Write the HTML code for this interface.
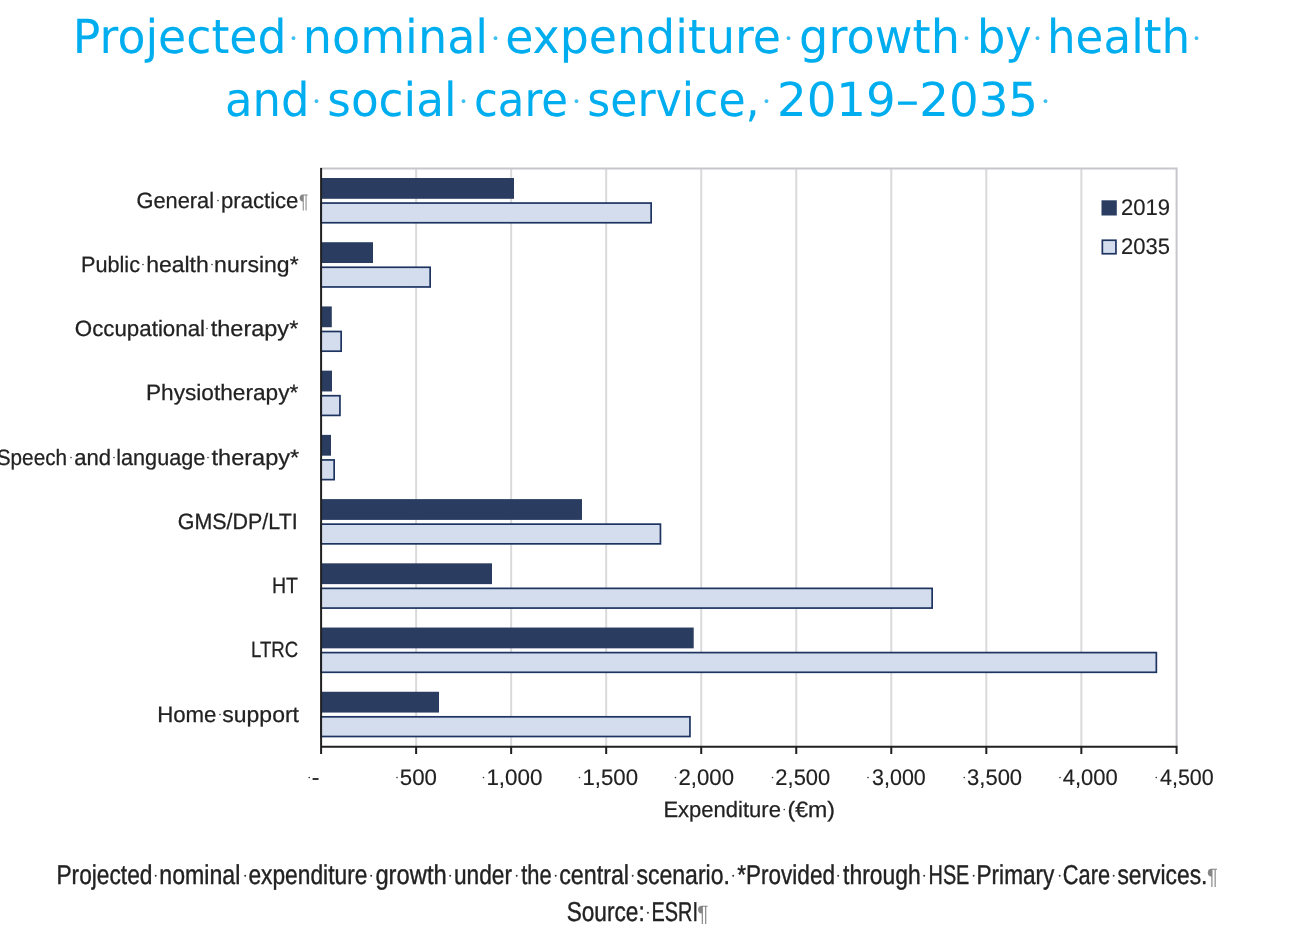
<!DOCTYPE html>
<html lang="en">
<head>
<meta charset="utf-8">
<title>Projected nominal expenditure growth by health and social care service, 2019–2035</title>
<style>
html,body{margin:0;padding:0;background:#fff;}
body{width:1290px;height:942px;overflow:hidden;position:relative;}
svg{position:absolute;left:0;top:0;display:block;}
text{white-space:pre;text-rendering:geometricPrecision;}
.title{font-family:"DejaVu Sans", "Liberation Sans", sans-serif;font-size:46.9px;fill:#00aeef;}
.title .d{font-family:"Liberation Serif", "DejaVu Serif", serif;font-size:33px;fill:#3dc0f2;stroke:none;}
.title .p{font-family:"Liberation Sans", "DejaVu Sans", sans-serif;font-size:19.5px;fill:#00aeef;stroke:none;}
.lab{font-family:"Liberation Sans", "DejaVu Sans", sans-serif;font-size:22.2px;fill:#222222;stroke:#222222;stroke-width:0.25px;}
.lab .d{font-family:"Liberation Serif", "DejaVu Serif", serif;font-size:13.5px;fill:#333333;stroke:none;}
.lab .p{font-family:"Liberation Sans", "DejaVu Sans", sans-serif;font-size:19.5px;fill:#858585;stroke:none;}
.num{font-family:"Liberation Sans", "DejaVu Sans", sans-serif;font-size:22.6px;fill:#222222;stroke:#222222;stroke-width:0.15px;}
.num .d{font-family:"Liberation Serif", "DejaVu Serif", serif;font-size:13.5px;fill:#333333;stroke:none;}
.num .p{font-family:"Liberation Sans", "DejaVu Sans", sans-serif;font-size:19.5px;fill:#858585;stroke:none;}
.cap{font-family:"Liberation Sans", "DejaVu Sans", sans-serif;font-size:27.4px;fill:#222222;stroke:#222222;stroke-width:0.4px;}
.cap .d{font-family:"Liberation Serif", "DejaVu Serif", serif;font-size:16px;fill:#333333;stroke:none;}
.cap .p{font-family:"Liberation Sans", "DejaVu Sans", sans-serif;font-size:22.3px;fill:#858585;stroke:none;}
</style>
</head>
<body>
<svg width="1290" height="942" viewBox="0 0 1290 942" role="img" aria-label="Projected nominal expenditure growth by health and social care service, 2019-2035">
<g id="title">
<text class="title"><tspan x="72.84" y="53" textLength="213.69" lengthAdjust="spacingAndGlyphs">Projected</tspan><tspan class="d" x="288.02" y="48.67">·</tspan><tspan x="302.81" y="53" textLength="185.38" lengthAdjust="spacingAndGlyphs">nominal</tspan><tspan class="d" x="490.02" y="48.67">·</tspan><tspan x="505.16" y="53" textLength="275.87" lengthAdjust="spacingAndGlyphs">expenditure</tspan><tspan class="d" x="783.02" y="48.67">·</tspan><tspan x="799.11" y="53" textLength="160.82" lengthAdjust="spacingAndGlyphs">growth</tspan><tspan class="d" x="961.02" y="48.67">·</tspan><tspan x="976.97" y="53" textLength="54.76" lengthAdjust="spacingAndGlyphs">by</tspan><tspan class="d" x="1032.02" y="48.67">·</tspan><tspan x="1046.89" y="53" textLength="143.26" lengthAdjust="spacingAndGlyphs">health</tspan><tspan class="d" x="1190.88" y="48.67">·</tspan></text>
<text class="title"><tspan x="225" y="115.6" textLength="84.5" lengthAdjust="spacingAndGlyphs">and</tspan><tspan class="d" x="310.97" y="111.65">·</tspan><tspan x="327.26" y="115.6" textLength="129.31" lengthAdjust="spacingAndGlyphs">social</tspan><tspan class="d" x="458.1" y="111.65">·</tspan><tspan x="473.91" y="115.6" textLength="94.19" lengthAdjust="spacingAndGlyphs">care</tspan><tspan class="d" x="570.97" y="111.65">·</tspan><tspan x="587.31" y="115.6" textLength="172.35" lengthAdjust="spacingAndGlyphs">service,</tspan><tspan class="d" x="761.1" y="111.65">·</tspan><tspan x="776.91" y="115.6" textLength="261.2" lengthAdjust="spacingAndGlyphs">2019–2035</tspan><tspan class="d" x="1040.1" y="111.65">·</tspan></text>
</g>
<g id="chart">
<path d="M416.13 168.6V746.65M511.16 168.6V746.65M606.19 168.6V746.65M701.22 168.6V746.65M796.25 168.6V746.65M891.28 168.6V746.65M986.31 168.6V746.65M1081.34 168.6V746.65" stroke="#dadadc" stroke-width="2" fill="none"/>
<path d="M321.1 168.6H1176.6V746.65" stroke="#c6c7cb" stroke-width="2" fill="none" stroke-linecap="square"/>
<rect x="321.1" y="178" width="192.9" height="20.8" fill="#2a3d61"/>
<rect x="321.1" y="203.05" width="330.05" height="19.7" fill="#d4ddee" stroke="#1d3461" stroke-width="1.7"/>
<rect x="321.1" y="242.22" width="51.9" height="20.8" fill="#2a3d61"/>
<rect x="321.1" y="267.27" width="109.05" height="19.7" fill="#d4ddee" stroke="#1d3461" stroke-width="1.7"/>
<rect x="321.1" y="306.44" width="10.7" height="20.8" fill="#2a3d61"/>
<rect x="321.1" y="331.49" width="20.05" height="19.7" fill="#d4ddee" stroke="#1d3461" stroke-width="1.7"/>
<rect x="321.1" y="370.66" width="10.9" height="20.8" fill="#2a3d61"/>
<rect x="321.1" y="395.71" width="18.85" height="19.7" fill="#d4ddee" stroke="#1d3461" stroke-width="1.7"/>
<rect x="321.1" y="434.88" width="9.9" height="20.8" fill="#2a3d61"/>
<rect x="321.1" y="459.93" width="13.05" height="19.7" fill="#d4ddee" stroke="#1d3461" stroke-width="1.7"/>
<rect x="321.1" y="499.1" width="260.9" height="20.8" fill="#2a3d61"/>
<rect x="321.1" y="524.15" width="339.35" height="19.7" fill="#d4ddee" stroke="#1d3461" stroke-width="1.7"/>
<rect x="321.1" y="563.32" width="170.9" height="20.8" fill="#2a3d61"/>
<rect x="321.1" y="588.37" width="611.05" height="19.7" fill="#d4ddee" stroke="#1d3461" stroke-width="1.7"/>
<rect x="321.1" y="627.54" width="372.6" height="20.8" fill="#2a3d61"/>
<rect x="321.1" y="652.59" width="835.25" height="19.7" fill="#d4ddee" stroke="#1d3461" stroke-width="1.7"/>
<rect x="321.1" y="691.76" width="117.9" height="20.8" fill="#2a3d61"/>
<rect x="321.1" y="716.81" width="368.85" height="19.7" fill="#d4ddee" stroke="#1d3461" stroke-width="1.7"/>
<path d="M321.1 168V746.65M320.1 746.65H1177.6M321.1 746.65V754M416.13 746.65V754M511.16 746.65V754M606.19 746.65V754M701.22 746.65V754M796.25 746.65V754M891.28 746.65V754M986.31 746.65V754M1081.34 746.65V754M1176.6 746.65V754" stroke="#202020" stroke-width="2" fill="none"/>
<rect x="1101.5" y="200.3" width="15.3" height="15.2" fill="#2a3d61"/>
<rect x="1102.35" y="240.25" width="13.6" height="13.5" fill="#d4ddee" stroke="#1d3461" stroke-width="1.7"/>
<text class="lab"><tspan x="136.51" y="207.5" textLength="77.52" lengthAdjust="spacingAndGlyphs">General</tspan><tspan class="d" x="215.71" y="205.02">·</tspan><tspan x="220.97" y="207.5" textLength="77.45" lengthAdjust="spacingAndGlyphs">practice</tspan><tspan class="p" x="299.04" y="207.5" textLength="9.37" lengthAdjust="spacingAndGlyphs">¶</tspan></text>
<text class="lab"><tspan x="80.95" y="271.75" textLength="59.07" lengthAdjust="spacingAndGlyphs">Public</tspan><tspan class="d" x="140.71" y="268.76">·</tspan><tspan x="146.18" y="271.75" textLength="62.62" lengthAdjust="spacingAndGlyphs">health</tspan><tspan class="d" x="209.71" y="268.76">·</tspan><tspan x="214.12" y="271.75" textLength="84.49" lengthAdjust="spacingAndGlyphs">nursing*</tspan></text>
<text class="lab"><tspan x="74.77" y="336" textLength="130.28" lengthAdjust="spacingAndGlyphs">Occupational</tspan><tspan class="d" x="204.71" y="333.26">·</tspan><tspan x="210.7" y="336" textLength="87.6" lengthAdjust="spacingAndGlyphs">therapy*</tspan></text>
<text class="lab"><tspan x="145.98" y="400.25" textLength="152.36" lengthAdjust="spacingAndGlyphs">Physiotherapy*</tspan></text>
<text class="lab"><tspan x="-3.21" y="464.5" textLength="70.24" lengthAdjust="spacingAndGlyphs">Speech</tspan><tspan class="d" x="68.71" y="462.02">·</tspan><tspan x="74.2" y="464.5" textLength="36.85" lengthAdjust="spacingAndGlyphs">and</tspan><tspan class="d" x="111.71" y="462.02">·</tspan><tspan x="116.2" y="464.5" textLength="89.17" lengthAdjust="spacingAndGlyphs">language</tspan><tspan class="d" x="205.71" y="462.02">·</tspan><tspan x="211.51" y="464.5" textLength="87.76" lengthAdjust="spacingAndGlyphs">therapy*</tspan></text>
<text class="lab"><tspan x="177.75" y="528.75" textLength="119.94" lengthAdjust="spacingAndGlyphs">GMS/DP/LTI</tspan></text>
<text class="lab"><tspan x="271.96" y="593" textLength="26.04" lengthAdjust="spacingAndGlyphs">HT</tspan></text>
<text class="lab"><tspan x="250.96" y="657.25" textLength="47.35" lengthAdjust="spacingAndGlyphs">LTRC</tspan></text>
<text class="lab"><tspan x="157.13" y="721.5" textLength="59.31" lengthAdjust="spacingAndGlyphs">Home</tspan><tspan class="d" x="217.71" y="719.02">·</tspan><tspan x="222.32" y="721.5" textLength="76.65" lengthAdjust="spacingAndGlyphs">support</tspan></text>
<text class="num"><tspan class="d" x="306.91" y="782.35">·</tspan><tspan x="311.88" y="785.2" textLength="7.69" lengthAdjust="spacingAndGlyphs">-</tspan></text>
<text class="num"><tspan class="d" x="394.71" y="782.36">·</tspan><tspan x="399.83" y="785.2" textLength="37.12" lengthAdjust="spacingAndGlyphs">500</tspan></text>
<text class="num"><tspan class="d" x="481.32" y="782.36">·</tspan><tspan x="486.4" y="785.2" textLength="56.03" lengthAdjust="spacingAndGlyphs">1,000</tspan></text>
<text class="num"><tspan class="d" x="577.32" y="782.36">·</tspan><tspan x="582.42" y="785.2" textLength="55.6" lengthAdjust="spacingAndGlyphs">1,500</tspan></text>
<text class="num"><tspan class="d" x="673.21" y="782.36">·</tspan><tspan x="678.48" y="785.2" textLength="55.5" lengthAdjust="spacingAndGlyphs">2,000</tspan></text>
<text class="num"><tspan class="d" x="770.21" y="782.36">·</tspan><tspan x="775.37" y="785.2" textLength="54.86" lengthAdjust="spacingAndGlyphs">2,500</tspan></text>
<text class="num"><tspan class="d" x="865.71" y="782.36">·</tspan><tspan x="872.12" y="785.2" textLength="53.7" lengthAdjust="spacingAndGlyphs">3,000</tspan></text>
<text class="num"><tspan class="d" x="961.91" y="782.35">·</tspan><tspan x="967.12" y="785.2" textLength="54.99" lengthAdjust="spacingAndGlyphs">3,500</tspan></text>
<text class="num"><tspan class="d" x="1057.71" y="782.36">·</tspan><tspan x="1062.77" y="785.2" textLength="55.03" lengthAdjust="spacingAndGlyphs">4,000</tspan></text>
<text class="num"><tspan class="d" x="1153.91" y="782.35">·</tspan><tspan x="1160" y="785.2" textLength="53.71" lengthAdjust="spacingAndGlyphs">4,500</tspan></text>
<text class="lab"><tspan x="663.4" y="817" textLength="117.5" lengthAdjust="spacingAndGlyphs">Expenditure</tspan><tspan class="d" x="781.91" y="814.25">·</tspan><tspan x="787.52" y="817" textLength="47.57" lengthAdjust="spacingAndGlyphs">(€m)</tspan></text>
<text class="num"><tspan x="1120.97" y="215" textLength="49.06" lengthAdjust="spacingAndGlyphs">2019</tspan></text>
<text class="num"><tspan x="1120.97" y="254.2" textLength="48.95" lengthAdjust="spacingAndGlyphs">2035</tspan></text>
</g>
<g id="caption">
<text class="cap"><tspan x="56.42" y="883.7" textLength="96.01" lengthAdjust="spacingAndGlyphs">Projected</tspan><tspan class="d" x="152.97" y="881.13">·</tspan><tspan x="159.37" y="883.7" textLength="81.02" lengthAdjust="spacingAndGlyphs">nominal</tspan><tspan class="d" x="242.39" y="881.13">·</tspan><tspan x="248.4" y="883.7" textLength="119.01" lengthAdjust="spacingAndGlyphs">expenditure</tspan><tspan class="d" x="368.58" y="881.13">·</tspan><tspan x="375.38" y="883.7" textLength="71.33" lengthAdjust="spacingAndGlyphs">growth</tspan><tspan class="d" x="447.39" y="881.13">·</tspan><tspan x="453.98" y="883.7" textLength="58.02" lengthAdjust="spacingAndGlyphs">under</tspan><tspan class="d" x="513.97" y="881.13">·</tspan><tspan x="521.25" y="883.7" textLength="30.4" lengthAdjust="spacingAndGlyphs">the</tspan><tspan class="d" x="552.97" y="881.13">·</tspan><tspan x="559.18" y="883.7" textLength="69.85" lengthAdjust="spacingAndGlyphs">central</tspan><tspan class="d" x="629.95" y="881.13">·</tspan><tspan x="636.38" y="883.7" textLength="93.58" lengthAdjust="spacingAndGlyphs">scenario.</tspan><tspan class="d" x="730.58" y="881.13">·</tspan><tspan x="737.2" y="883.7" textLength="97.83" lengthAdjust="spacingAndGlyphs">*Provided</tspan><tspan class="d" x="835.58" y="881.13">·</tspan><tspan x="843.1" y="883.7" textLength="77.66" lengthAdjust="spacingAndGlyphs">through</tspan><tspan class="d" x="921.58" y="881.13">·</tspan><tspan x="928.57" y="883.7" textLength="40.77" lengthAdjust="spacingAndGlyphs">HSE</tspan><tspan class="d" x="970.97" y="881.13">·</tspan><tspan x="976.51" y="883.7" textLength="77.91" lengthAdjust="spacingAndGlyphs">Primary</tspan><tspan class="d" x="1056.95" y="881.13">·</tspan><tspan x="1062.81" y="883.7" textLength="47.2" lengthAdjust="spacingAndGlyphs">Care</tspan><tspan class="d" x="1110.97" y="881.13">·</tspan><tspan x="1117.39" y="883.7" textLength="90.06" lengthAdjust="spacingAndGlyphs">services.</tspan><tspan class="p" x="1207.03" y="883.7" textLength="10.83" lengthAdjust="spacingAndGlyphs">¶</tspan></text>
<text class="cap"><tspan x="566.67" y="920.5" textLength="78.07" lengthAdjust="spacingAndGlyphs">Source:</tspan><tspan class="d" x="645.31" y="917.61">·</tspan><tspan x="651.57" y="920.5" textLength="46.37" lengthAdjust="spacingAndGlyphs">ESRI</tspan><tspan class="p" x="697.16" y="920.5" textLength="11.22" lengthAdjust="spacingAndGlyphs">¶</tspan></text>
</g>
</svg>
</body>
</html>
